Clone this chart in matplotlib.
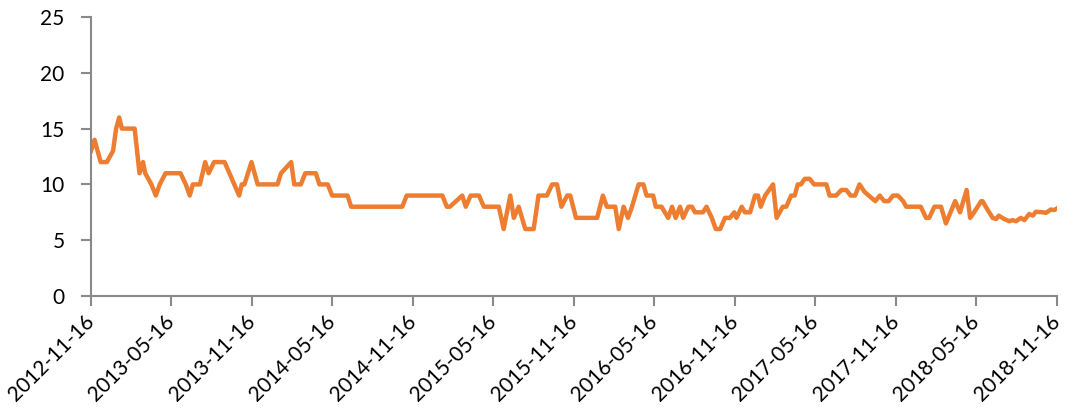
import pandas as pd
import numpy as np
import matplotlib
matplotlib.use("Agg")
import matplotlib.pyplot as plt

plt.rcParams['font.family'] = ['Lato', 'DejaVu Sans']

# turning points of the series
dates = [
    "2012-11-16", "2012-11-24", "2012-12-08", "2012-12-22", "2013-01-05", "2013-01-12",
    "2013-01-19", "2013-01-25", "2013-02-23", "2013-03-06", "2013-03-14", "2013-03-19",
    "2013-04-02", "2013-04-12", "2013-04-21", "2013-05-04", "2013-06-07", "2013-06-19",
    "2013-06-28", "2013-07-05", "2013-07-21", "2013-08-02", "2013-08-10", "2013-08-22",
    "2013-09-15", "2013-10-07", "2013-10-18", "2013-10-24", "2013-10-30", "2013-11-15",
    "2013-11-29", "2014-01-13", "2014-01-21", "2014-02-13", "2014-02-20", "2014-03-07",
    "2014-03-17", "2014-04-10", "2014-04-18", "2014-05-07", "2014-05-17", "2014-06-21",
    "2014-06-29", "2014-10-23", "2014-11-02", "2015-01-22", "2015-02-01", "2015-02-08",
    "2015-03-08", "2015-03-16", "2015-03-27", "2015-04-15", "2015-04-26", "2015-05-30",
    "2015-06-10", "2015-06-25", "2015-07-03", "2015-07-14", "2015-07-29", "2015-08-17",
    "2015-08-28", "2015-09-16", "2015-09-28", "2015-10-09", "2015-10-19", "2015-11-01",
    "2015-11-08", "2015-11-21", "2016-01-08", "2016-01-21", "2016-01-30", "2016-02-18",
    "2016-02-26", "2016-03-08", "2016-03-18", "2016-03-27", "2016-04-11", "2016-04-22",
    "2016-04-29", "2016-05-14", "2016-05-20", "2016-06-02", "2016-06-17", "2016-06-26",
    "2016-07-04", "2016-07-14", "2016-07-21", "2016-08-02", "2016-08-10", "2016-08-17",
    "2016-09-04", "2016-09-12", "2016-09-24", "2016-10-03", "2016-10-13", "2016-10-24",
    "2016-11-04", "2016-11-14", "2016-11-19", "2016-12-01", "2016-12-08", "2016-12-20",
    "2016-12-31", "2017-01-07", "2017-01-13", "2017-01-23", "2017-02-10", "2017-02-18",
    "2017-03-04", "2017-03-12", "2017-03-23", "2017-03-31", "2017-04-07", "2017-04-14",
    "2017-04-23", "2017-05-04", "2017-05-14", "2017-06-11", "2017-06-18", "2017-07-03",
    "2017-07-15", "2017-07-26", "2017-08-05", "2017-08-15", "2017-08-25", "2017-09-05",
    "2017-09-15", "2017-09-30", "2017-10-10", "2017-10-20", "2017-10-30", "2017-11-09",
    "2017-11-20", "2017-12-02", "2017-12-09", "2018-01-11", "2018-01-23", "2018-01-30",
    "2018-02-11", "2018-02-26", "2018-03-09", "2018-03-30", "2018-04-10", "2018-04-25",
    "2018-05-03", "2018-05-12", "2018-05-28", "2018-05-31", "2018-06-12", "2018-06-23",
    "2018-07-01", "2018-07-07", "2018-07-19", "2018-07-31", "2018-08-07", "2018-08-15",
    "2018-08-26", "2018-09-03", "2018-09-14", "2018-09-22", "2018-09-29", "2018-10-15",
    "2018-10-22", "2018-11-02", "2018-11-10", "2018-11-16",
]
values = [
    13, 14, 12, 12, 13, 15,
    16, 15, 15, 11, 12, 11,
    10, 9, 10, 11, 11, 10,
    9, 10, 10, 12, 11, 12,
    12, 10, 9, 10, 10, 12,
    10, 10, 11, 12, 10, 10,
    11, 11, 10, 10, 9, 9,
    8, 8, 9, 9, 8, 8,
    9, 8, 9, 9, 8, 8,
    6, 9, 7, 8, 6, 6,
    9, 9, 10, 10, 8, 9,
    9, 7, 7, 9, 8, 8,
    6, 8, 7, 8, 10, 10,
    9, 9, 8, 8, 7, 8,
    7, 8, 7, 8, 8, 7.5,
    7.5, 8, 7, 6, 6, 7,
    7, 7.5, 7, 8, 7.5, 7.5,
    9, 9, 8, 9, 10, 7,
    8, 8, 9, 9, 10, 10,
    10.5, 10.5, 10, 10, 9, 9,
    9.5, 9.5, 9, 9, 10, 9.35,
    9, 8.5, 9, 8.5, 8.5, 9,
    9, 8.5, 8, 8, 7, 7,
    8, 8, 6.5, 8.5, 7.5, 9.5,
    7, 7.5, 8.5, 8.5, 7.7, 7,
    6.9, 7.2, 6.9, 6.7, 6.8, 6.7,
    7.0, 6.8, 7.35, 7.2, 7.55, 7.5,
    7.45, 7.75, 7.7, 7.85,
]
tick_labels = ["2012-11-16", "2013-05-16", "2013-11-16", "2014-05-16", "2014-11-16",
               "2015-05-16", "2015-11-16", "2016-05-16", "2016-11-16", "2017-05-16",
               "2017-11-16", "2018-05-16", "2018-11-16"]

x = pd.to_datetime(dates)
ticks = pd.to_datetime(tick_labels)

fig = plt.figure(figsize=(10.73, 4.09), dpi=100)
ax = fig.add_axes([0.0848, 0.2763, 0.9003, 0.6821])

ax.plot(x, values, color='#ED7D31', linewidth=3.2)

ax.set_xlim(ticks[0], ticks[-1])
ax.set_ylim(0, 25)
ax.set_yticks(np.arange(0, 26, 5))
ax.set_xticks(ticks)
ax.set_xticklabels(tick_labels, rotation=45, ha='right', va='center', rotation_mode='anchor')

for s in ['top', 'right']:
    ax.spines[s].set_visible(False)
for s in ['left', 'bottom']:
    ax.spines[s].set_color('#898989')
    ax.spines[s].set_linewidth(1.5)

ax.tick_params(axis='both', colors='#898989', width=1.5, length=7, labelsize=15, labelcolor='black')
ax.tick_params(axis='y', pad=12)
ax.tick_params(axis='x', pad=9)

fig.savefig("out.png", dpi=100)
plt.close()
